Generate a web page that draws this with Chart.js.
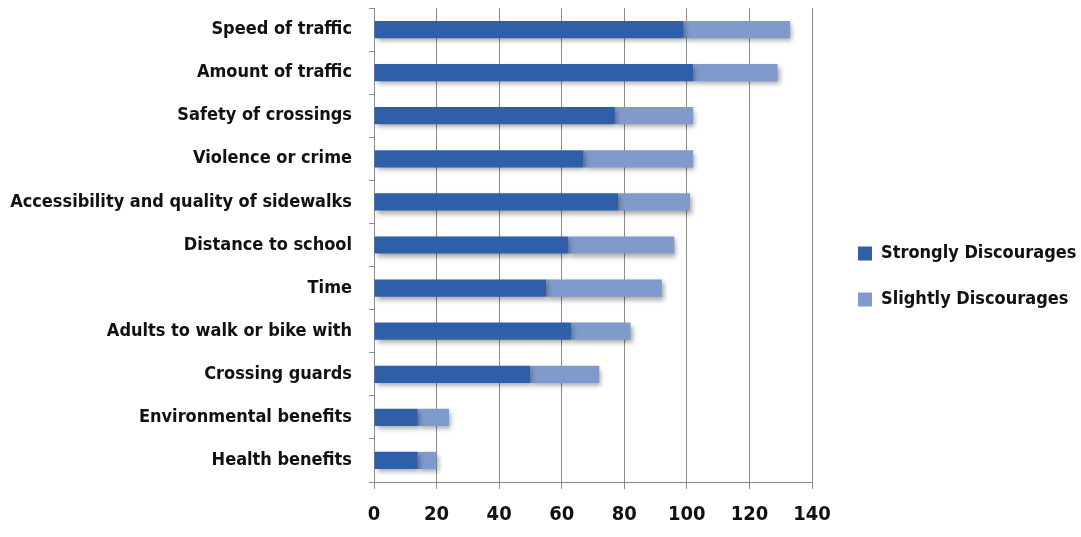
<!DOCTYPE html>
<html>
<head>
<meta charset="utf-8">
<script src="https://cdn.jsdelivr.net/npm/chart.js@4.4.1/dist/chart.umd.min.js"></script>
<style>
  html, body { margin: 0; padding: 0; background: #ffffff; }
  #wrap { width: 1081px; height: 537px; position: relative; }
</style>
</head>
<body>
<div id="wrap"><canvas id="barrierChart"></canvas></div>
<script>
// Reasons that discourage walking or biking to school
const categories = [
    'Speed of traffic',
    'Amount of traffic',
    'Safety of crossings',
    'Violence or crime',
    'Accessibility and quality of sidewalks',
    'Distance to school',
    'Time',
    'Adults to walk or bike with',
    'Crossing guards',
    'Environmental benefits',
    'Health benefits'
];
const strongly = [99, 102, 77, 67, 78, 62, 55, 63, 50, 14, 14];
const slightly = [34, 27, 25, 35, 23, 34, 37, 19, 22, 10, 6];
const xTicks = [0, 20, 40, 60, 80, 100, 120, 140];

const fontFamily = "'DejaVu Sans Condensed', 'DejaVu Sans', sans-serif";
const labelFont = { family: fontFamily, weight: 'bold', size: 18 };

// soft drop shadow under the bars
const barShadow = {
    id: 'barShadow',
    beforeDatasetsDraw(chart) {
        const ctx = chart.ctx;
        ctx.save();
        ctx.shadowColor = 'rgba(0, 0, 0, 0.35)';
        ctx.shadowBlur = 5;
        ctx.shadowOffsetX = 2;
        ctx.shadowOffsetY = 3;
    },
    afterDatasetsDraw(chart) {
        chart.ctx.restore();
    }
};

// fixed legend column, with a gap between the plot and the legend keys
const legendWidth = 269;
const legendGap = 18;
const legendDrop = 8;
const legendSpacing = {
    id: 'legendSpacing',
    beforeLayout(chart) {
        const legend = chart.legend;
        if (legend && !legend._fixedWidth) {
            const fit = legend.fit;
            legend.fit = function () {
                fit.call(this);
                this.width = legendWidth;
            };
            legend._fixedWidth = true;
        }
    },
    afterLayout(chart) {
        if (chart.legend) {
            chart.legend.left += legendGap;
            chart.legend.top += legendDrop;
            chart.legend.bottom += legendDrop;
        }
    }
};

const ctx = document.getElementById('barrierChart').getContext('2d');

new Chart(ctx, {
    type: 'bar',
    data: {
        labels: categories,
        datasets: [{
            label: 'Strongly Discourages',
            data: strongly,
            backgroundColor: '#2f5fa8',
            borderWidth: 0
        }, {
            label: 'Slightly Discourages',
            data: slightly,
            backgroundColor: '#7f9acb',
            borderWidth: 0
        }]
    },
    options: {
        indexAxis: 'y',
        responsive: true,
        maintainAspectRatio: false,
        animation: false,
        layout: { padding: { top: 8, right: 0, left: 6, bottom: 8 } },
        datasets: {
            bar: { categoryPercentage: 1, barPercentage: 0.4 }
        },
        plugins: {
            tooltip: { enabled: false },
            legend: {
                position: 'right',
                labels: {
                    color: '#111111',
                    font: labelFont,
                    boxWidth: 14,
                    boxHeight: 14,
                    padding: 28
                }
            }
        },
        scales: {
            x: {
                stacked: true,
                min: 0,
                max: 140,
                afterBuildTicks(axis) {
                    axis.ticks = xTicks.map(v => ({ value: v }));
                },
                afterFit(axis) {
                    axis.height = 47;
                },
                grid: { color: '#8c8c8c', lineWidth: 1, tickLength: 7 },
                border: { color: '#8c8c8c' },
                ticks: {
                    color: '#111111',
                    font: { family: fontFamily, weight: 'bold', size: 20 },
                    padding: 14
                }
            },
            y: {
                stacked: true,
                afterFit(axis) {
                    axis.width = 368;
                    axis.paddingTop = 0;
                    axis.paddingBottom = 0;
                },
                grid: { drawOnChartArea: false, color: '#8c8c8c', tickLength: 5 },
                border: { color: '#8c8c8c' },
                ticks: {
                    color: '#111111',
                    font: labelFont,
                    padding: 17
                }
            }
        }
    },
    plugins: [barShadow, legendSpacing]
});
</script>
</body>
</html>
